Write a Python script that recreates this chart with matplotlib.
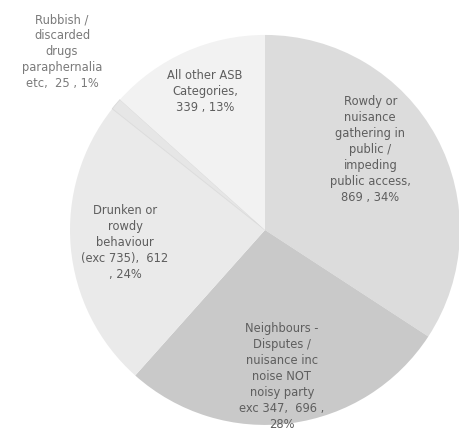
import matplotlib
matplotlib.use("Agg")
import matplotlib.pyplot as plt

categories = [
    "Rowdy or nuisance gathering in public / impeding public access",
    "Neighbours - Disputes / nuisance inc noise NOT noisy party exc 347",
    "Drunken or rowdy behaviour (exc 735)",
    "Rubbish / discarded drugs paraphernalia etc",
    "All other ASB Categories",
]
values = [869, 696, 612, 25, 339]
pct_labels = ["34%", "28%", "24%", "1%", "13%"]
label_text = [
    "Rowdy or\nnuisance\ngathering in\npublic /\nimpeding\npublic access,\n869 , 34%",
    "Neighbours -\nDisputes /\nnuisance inc\nnoise NOT\nnoisy party\nexc 347,  696 ,\n28%",
    "Drunken or\nrowdy\nbehaviour\n(exc 735),  612\n, 24%",
    "Rubbish /\ndiscarded\ndrugs\nparaphernalia\netc,  25 , 1%",
    "All other ASB\nCategories,\n339 , 13%",
]

colors = ["#dcdcdc", "#c9c9c9", "#eaeaea", "#e6e6e6", "#f2f2f2"]
label_pos = [(0.54, 0.41), (0.087, -0.75), (-0.718, -0.062), (-1.041, 0.913), (-0.308, 0.708)]
text_colors = ["#5e5e5e", "#5e5e5e", "#5e5e5e", "#7a7a7a", "#5e5e5e"]

fig = plt.figure(figsize=(4.6, 4.32), dpi=100)
ax = fig.add_axes([0, 0, 1, 1])
wedges, _ = ax.pie(values, colors=colors, startangle=90, counterclock=False,
                   radius=1.0, wedgeprops=dict(edgecolor="none"))
wedges[3].set_edgecolor("#dadada")
wedges[3].set_linewidth(0.6)

for txt, (x, y), c in zip(label_text, label_pos, text_colors):
    ax.text(x, y, txt, ha="center", va="center", fontsize=8.3, color=c,
            linespacing=1.3, family="DejaVu Sans")

ax.set_xlim(-1.359, 1.0)
ax.set_ylim(-1.036, 1.179)
ax.set_aspect("equal")
ax.axis("off")
fig.savefig("out.png", dpi=100, facecolor="white")
